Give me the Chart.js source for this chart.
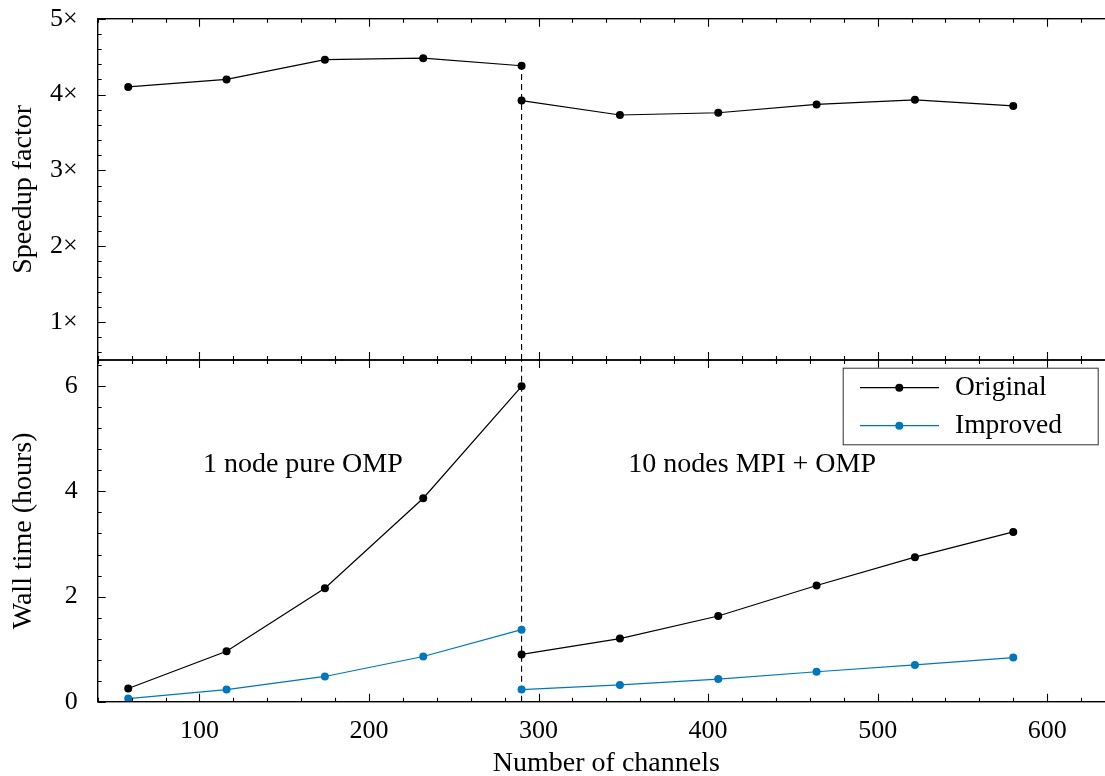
<!DOCTYPE html>
<html>
<head>
<meta charset="utf-8">
<script src="https://cdn.jsdelivr.net/npm/chart.js@4.4.1/dist/chart.umd.min.js"></script>
<style>
html,body{margin:0;padding:0;background:#fff;overflow:hidden;width:1105px;height:776px;}
#wrap{position:relative;width:1105px;height:776px;overflow:hidden;background:#fff;}
canvas{position:absolute;left:0;}
#top{top:0;}
#bottom{top:340px;}
</style>
</head>
<body>
<div id="wrap">
<canvas id="top" width="1120" height="380"></canvas>
<canvas id="bottom" width="1120" height="436"></canvas>
</div>
<script>
// ---------------- data ----------------
const channelsOneNode   = [58, 116, 174, 232, 290];
const channelsTenNodes  = [290, 348, 406, 464, 522, 580];
const speedupOneNode    = [4.10, 4.20, 4.46, 4.48, 4.38];
const speedupTenNodes   = [3.92, 3.73, 3.76, 3.87, 3.93, 3.85];
const originalOneNode   = [0.25, 0.96, 2.16, 3.87, 6.00];
const originalTenNodes  = [0.90, 1.20, 1.63, 2.21, 2.75, 3.23];
const improvedOneNode   = [0.06, 0.23, 0.48, 0.86, 1.37];
const improvedTenNodes  = [0.23, 0.32, 0.43, 0.57, 0.70, 0.84];
const seriesLabels      = ['Original', 'Improved'];
const xTickValues       = [100, 200, 300, 400, 500, 600];
const xTickLabels       = ['100', '200', '300', '400', '500', '600'];
const speedupTickValues = [1, 2, 3, 4, 5];
const speedupTickLabels = ['1×', '2×', '3×', '4×', '5×'];
const wallTickValues    = [0, 2, 4, 6];
const wallTickLabels    = ['0', '2', '4', '6'];
const switchChannels    = 290;
const regionLabels      = ['1 node pure OMP', '10 nodes MPI + OMP'];
const regionLabelX      = [161, 426];
const regionLabelY      = [4.5, 4.5];

// ---------------- helpers ----------------
const FONT = 'Liberation Serif, Times New Roman, serif';
const FS = 26;      // tick labels
const FT = 28;      // titles / annotations
const FL = 27.5;    // legend
const BLUE = '#0077BB';
Chart.defaults.font.family = FONT;
Chart.defaults.font.size = FS;
Chart.defaults.color = '#000';

function joinSegments(xa, ya, xb, yb) {
  const pts = xa.map((x, i) => ({x: x, y: ya[i]}));
  pts.push({x: switchChannels, y: null});
  return pts.concat(xb.map((x, i) => ({x: x, y: yb[i]})));
}

function lineDataset(label, color, data) {
  return {
    label: label, data: data, borderColor: color, backgroundColor: color,
    borderWidth: 1.2, pointRadius: 4, pointBorderWidth: 0, pointBackgroundColor: color,
    pointHoverRadius: 4, tension: 0, spanGaps: false, fill: false
  };
}

const framePlugin = {
  id: 'frame',
  beforeDatasetsDraw(chart, args, opts) {
    const {ctx} = chart;
    const xs = chart.scales.x, ys = chart.scales.y;
    const px = xs.getPixelForValue(switchChannels);
    const y0 = ys.getPixelForValue(ys.min);
    const y1 = ys.getPixelForValue(opts.dashTop != null ? opts.dashTop : ys.max);
    ctx.save();
    ctx.strokeStyle = '#000';
    ctx.lineWidth = 1.1;
    ctx.setLineDash([6, 4]);
    ctx.beginPath();
    ctx.moveTo(px, y0);
    ctx.lineTo(px, y1);
    ctx.stroke();
    ctx.restore();
  },
  afterDatasetsDraw(chart, args, opts) {
    const {ctx, chartArea: a} = chart;
    const xs = chart.scales.x, ys = chart.scales.y;
    ctx.save();
    ctx.strokeStyle = '#000';
    ctx.lineWidth = 1.1;
    const isMajor = (v, majors) => majors.some(m => Math.abs(m - v) < 1e-6);
    function minors(min, max, step) {
      const out = [];
      for (let k = Math.ceil(min / step - 1e-9); k * step <= max + 1e-9; k++) out.push(k * step);
      return out;
    }
    ctx.beginPath();
    minors(xs.min, xs.max, 20).forEach(v => {
      const len = isMajor(v, xTickValues) ? 8 : 4;
      const p = Math.round(xs.getPixelForValue(v)) + 0.5;
      ctx.moveTo(p, a.top); ctx.lineTo(p, a.top + len);
      ctx.moveTo(p, a.bottom); ctx.lineTo(p, a.bottom - len);
    });
    minors(ys.min, ys.max, opts.yMinorStep).forEach(v => {
      const len = isMajor(v, opts.yMajors) ? 8 : 4;
      const p = Math.round(ys.getPixelForValue(v)) + 0.5;
      ctx.moveTo(a.left, p); ctx.lineTo(a.left + len, p);
      ctx.moveTo(a.right, p); ctx.lineTo(a.right - len, p);
    });
    ctx.stroke();
    ctx.lineWidth = 1.4;
    ctx.strokeRect(a.left, a.top, a.right - a.left, a.bottom - a.top);

    if (opts.regions) {
      ctx.fillStyle = '#000';
      ctx.font = FT + 'px ' + FONT;
      ctx.textAlign = 'center';
      ctx.textBaseline = 'middle';
      regionLabels.forEach((t, i) => {
        ctx.fillText(t, xs.getPixelForValue(regionLabelX[i]), ys.getPixelForValue(regionLabelY[i]));
      });
    }
    if (opts.legend) {
      const w = 255, h = 76.6;
      const right = a.right - 17.3;
      const left = right - w;
      const top = a.top + 7.7;
      ctx.fillStyle = '#fff';
      ctx.fillRect(left, top, w, h);
      ctx.strokeStyle = '#333';
      ctx.lineWidth = 1;
      ctx.strokeRect(left + 0.5, top + 0.5, w, h);
      chart.data.datasets.forEach((ds, i) => {
        const yy = top + 20 + i * 38;
        ctx.strokeStyle = ds.borderColor;
        ctx.lineWidth = ds.borderWidth;
        ctx.beginPath();
        ctx.moveTo(left + 17.3, yy); ctx.lineTo(left + 96.3, yy);
        ctx.stroke();
        ctx.fillStyle = ds.borderColor;
        ctx.beginPath();
        ctx.arc(left + 56.6, yy, ds.pointRadius, 0, Math.PI * 2);
        ctx.fill();
        ctx.fillStyle = '#000';
        ctx.font = FL + 'px ' + FONT;
        ctx.textAlign = 'left';
        ctx.textBaseline = 'middle';
        ctx.fillText(ds.label, left + 112.3, yy);
      });
    }
    ctx.restore();
  }
};

function xScale(show) {
  return {
    type: 'linear', min: 40, max: 640, display: show,
    afterBuildTicks: s => { s.ticks = xTickValues.map(v => ({value: v})); },
    afterFit: s => {
      if (show) s.height = 74.3;
      s.paddingLeft = 0; s.paddingRight = 0; s.paddingTop = 0; s.paddingBottom = 0;
    },
    grid: {display: false}, border: {display: false},
    ticks: {padding: 6, maxRotation: 0, autoSkip: false, color: '#000', font: {size: FS},
            callback: (v, i) => xTickLabels[i]},
    title: {display: show, text: 'Number of channels', color: '#000',
            font: {size: FT, lineHeight: 0.9}, padding: {top: 0, bottom: 0}}
  };
}

function yScale(min, max, values, labels, title) {
  return {
    type: 'linear', min: min, max: max,
    afterBuildTicks: s => { s.ticks = values.map(v => ({value: v})); },
    afterFit: s => {
      s.width = 97.7;
      s.paddingTop = 0; s.paddingBottom = 0; s.paddingLeft = 0; s.paddingRight = 0;
    },
    grid: {display: false}, border: {display: false},
    ticks: {padding: 12, color: '#000', font: {size: FS}, callback: (v, i) => labels[i]},
    title: {display: true, text: title, color: '#000', font: {size: FT, lineHeight: 1.2},
            padding: {top: 7, bottom: 0}}
  };
}

// ---------------- top: speedup ----------------
new Chart(document.getElementById('top'), {
  type: 'line',
  data: {
    datasets: [lineDataset('Speedup', '#000',
      joinSegments(channelsOneNode, speedupOneNode, channelsTenNodes, speedupTenNodes))]
  },
  options: {
    responsive: false, animation: false, devicePixelRatio: 1,
    layout: {padding: {left: 0, right: 5, top: 18.7, bottom: 20}},
    scales: {
      x: xScale(false),
      y: yScale(0.5, 5, speedupTickValues, speedupTickLabels, 'Speedup factor')
    },
    plugins: {
      legend: {display: false}, tooltip: {enabled: false},
      frame: {dashTop: speedupOneNode[speedupOneNode.length - 1], yMajors: speedupTickValues, yMinorStep: 0.2}
    }
  },
  plugins: [framePlugin]
});

// ---------------- bottom: wall time ----------------
new Chart(document.getElementById('bottom'), {
  type: 'line',
  data: {
    datasets: [
      lineDataset(seriesLabels[0], '#000',
        joinSegments(channelsOneNode, originalOneNode, channelsTenNodes, originalTenNodes)),
      lineDataset(seriesLabels[1], BLUE,
        joinSegments(channelsOneNode, improvedOneNode, channelsTenNodes, improvedTenNodes))
    ]
  },
  options: {
    responsive: false, animation: false, devicePixelRatio: 1,
    layout: {padding: {left: 0, right: 5, top: 20, bottom: 0}},
    scales: {
      x: xScale(true),
      y: yScale(0, 6.5, wallTickValues, wallTickLabels, 'Wall time (hours)')
    },
    plugins: {
      legend: {display: false}, tooltip: {enabled: false},
      frame: {dashTop: null, yMajors: wallTickValues, yMinorStep: 0.4, legend: true, regions: true}
    }
  },
  plugins: [framePlugin]
});
</script>
</body>
</html>
